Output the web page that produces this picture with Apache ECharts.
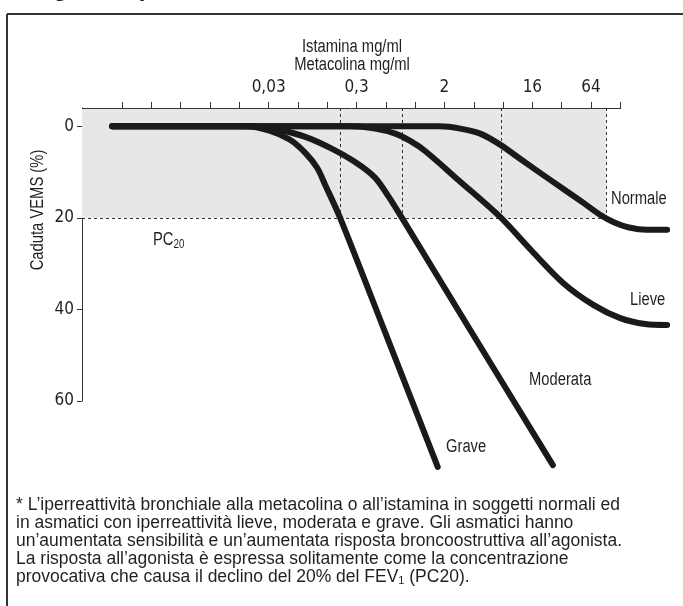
<!DOCTYPE html>
<html>
<head>
<meta charset="utf-8">
<script src="https://cdn.jsdelivr.net/npm/echarts@6/dist/echarts.min.js"></script>
<style>
html, body { margin: 0; padding: 0; background: #fff; }
#chart { width: 683px; height: 606px; }
</style>
</head>
<body>
<div id="chart"></div>
<script>
// asse delle dosi: ogni tacca = raddoppio della concentrazione
var doseTicks = [0, 1, 2, 3, 4, 5, 6, 7, 8, 9, 10, 11, 12, 13, 14, 15, 16, 17];
var doseLabelPos = [5, 8, 11, 14, 16];
var doseLabels = ['0,03', '0,3', '2', '16', '64'];
var fallTicks = [0, 20, 40, 60];
var pc20 = 20;

// curve dose-risposta (x = tacca di dose, y = caduta VEMS %)
var normaleX = [-0.34, 5, 10.85, 11.54, 12.22, 12.9, 13.58, 14.61, 15.63, 16.31, 16.8, 17.3, 17.9, 18.6];
var normaleY = [0, 0, 0, 0.5, 1.6, 4.0, 7.1, 11.7, 16.2, 19.3, 21.0, 22.1, 22.6, 22.6];
var lieveX = [-0.34, 4, 7.78, 8.63, 9.32, 9.83, 10.34, 11.54, 12.9, 13.92, 15.05, 16.08, 17.0, 17.85, 18.6];
var lieveY = [0, 0, 0, 0.5, 1.6, 3.2, 5.4, 12.1, 19.8, 26.8, 34.2, 39.0, 41.9, 43.2, 43.4];
var moderataX = [-0.34, 2, 4.54, 5.39, 6.25, 7.1, 7.95, 8.63, 9.1, 9.55, 11.88, 14.7];
var moderataY = [0, 0, 0, 0.8, 2.3, 4.7, 7.8, 11.2, 15.4, 20.0, 44.5, 74.0];
var graveX = [-0.34, 2, 4.2, 5.05, 5.73, 6.25, 6.66, 6.93, 7.44, 9.0, 10.77];
var graveY = [0, 0, 0, 1.0, 2.95, 5.8, 9.1, 12.8, 20.0, 45.4, 74.4];

var XMIN = -1.37, XMAX = 18.8, XAXIS_END = 17.03, YMIN = -4, YMAX = 60;
var SANS = '"Liberation Sans", Arial, sans-serif';
var COND = '"DejaVu Sans Condensed", "Liberation Sans", sans-serif';
var INK = '#231f20';
var SQ = 0.82; // compressione orizzontale per imitare il carattere condensato

function pairs(xs, ys) {
	var out = [];
	for (var i = 0; i < xs.length; i++) out.push([xs[i], ys[i]]);
	return out;
}
// punto in cui la curva raggiunge la PC20
function crossAt(xs, ys, level) {
	for (var i = 1; i < ys.length; i++) {
		if (ys[i] >= level) {
			return xs[i - 1] + (xs[i] - xs[i - 1]) * (level - ys[i - 1]) / (ys[i] - ys[i - 1]);
		}
	}
	return xs[xs.length - 1];
}
function condText(text, x, y, extra) {
	var st = { text: text, font: '18px ' + SANS, fill: INK, textVerticalAlign: 'middle' };
	for (var k in extra) st[k] = extra[k];
	return { type: 'text', x: x, y: y, scaleX: SQ, style: st };
}

var curves = [
	{ name: 'Normale', x: normaleX, y: normaleY },
	{ name: 'Lieve', x: lieveX, y: lieveY },
	{ name: 'Moderata', x: moderataX, y: moderataY },
	{ name: 'Grave', x: graveX, y: graveY }
];
var crossX = curves.map(function (c) { return crossAt(c.x, c.y, pc20); });
var boxRight = crossX[0];

var dashLines = [
	// linea dell'asse superiore (più corta del riquadro del grafico)
	[{ coord: [XMIN, YMIN], lineStyle: { type: 'solid', color: '#333', width: 1 } }, { coord: [XAXIS_END, YMIN] }],
	[{ coord: [XMIN, pc20] }, { coord: [boxRight, pc20] }]
];
crossX.forEach(function (cx) {
	dashLines.push([{ coord: [cx, YMIN] }, { coord: [cx, pc20] }]);
});

var series = curves.map(function (c, i) {
	var s = {
		name: c.name,
		type: 'line',
		data: pairs(c.x, c.y),
		showSymbol: false,
		smooth: 0.3,
		clip: false,
		z: 5,
		lineStyle: { width: 6, color: '#1a1a1a', cap: 'round', join: 'round' }
	};
	if (i === 0) {
		s.markArea = {
			silent: true,
			itemStyle: { color: '#e6e7e8' },
			data: [[{ coord: [XMIN, YMIN] }, { coord: [boxRight, pc20] }]]
		};
		s.markLine = {
			silent: true,
			symbol: 'none',
			label: { show: false },
			lineStyle: { type: [3, 3], color: '#333', width: 1 },
			data: dashLines
		};
	}
	return s;
});

var chart = echarts.init(document.getElementById('chart'));
var option = {
	animation: false,
	grid: { left: 82, right: 10, top: 108, bottom: 205 },
	xAxis: {
		type: 'value',
		position: 'top',
		min: XMIN,
		max: XMAX,
		axisLine: { show: false, onZero: false },
		axisTick: { show: true, customValues: doseTicks, length: 6, lineStyle: { color: '#333' } },
		axisLabel: {
			customValues: doseLabelPos,
			margin: 12,
			fontFamily: COND,
			fontSize: 17,
			color: INK,
			formatter: function (v) {
				var k = doseLabelPos.indexOf(Math.round(v));
				return k >= 0 ? doseLabels[k] : '';
			}
		},
		splitLine: { show: false }
	},
	yAxis: {
		type: 'value',
		inverse: true,
		min: YMIN,
		max: YMAX,
		axisLine: { show: true, onZero: false, lineStyle: { color: '#333', width: 1 } },
		axisTick: { show: true, customValues: fallTicks, length: 5, lineStyle: { color: '#333' } },
		axisLabel: { customValues: fallTicks, margin: 8, fontFamily: COND, fontSize: 17, color: INK },
		splitLine: { show: false }
	},
	series: series,
	graphic: [
		{ type: 'line', shape: { x1: 7, y1: 14, x2: 683, y2: 14 }, style: { stroke: '#333', lineWidth: 2 } },
		{ type: 'line', shape: { x1: 7, y1: 14, x2: 7, y2: 606 }, style: { stroke: '#333', lineWidth: 2 } },
		{ type: 'text', x: 32, y: 1, style: { text: 'Figura 1 Iperreattività bronchiale', font: 'bold 24px ' + SANS, fill: INK, textVerticalAlign: 'bottom' } },
		condText('Istamina mg/ml', 352, 47, { textAlign: 'center' }),
		condText('Metacolina mg/ml', 352, 65, { textAlign: 'center' }),
		{ type: 'text', x: 38, y: 210, rotation: Math.PI / 2, scaleX: SQ, style: { text: 'Caduta VEMS (%)', font: '18px ' + SANS, fill: INK, textAlign: 'center', textVerticalAlign: 'middle' } },
		condText('PC{s|20}', 153, 240, { rich: { s: { fontFamily: SANS, fontSize: 12, fill: INK, padding: [10, 0, 0, 0] } } }),
		condText('Normale', 611, 199),
		condText('Lieve', 630, 300),
		condText('Moderata', 529, 380),
		condText('Grave', 446, 447),
		{
			type: 'text', x: 16, y: 496,
			style: {
				text: '* L\u2019iperreattività bronchiale alla metacolina o all\u2019istamina in soggetti normali ed\n' +
					'in asmatici con iperreattività lieve, moderata e grave. Gli asmatici hanno\n' +
					'un\u2019aumentata sensibilità e un\u2019aumentata risposta broncoostruttiva all\u2019agonista.\n' +
					'La risposta all\u2019agonista è espressa solitamente come la concentrazione\n' +
					'provocativa che causa il declino del 20% del FEV{s|1} (PC20).',
				font: '17.5px ' + SANS,
				fill: INK,
				lineHeight: 18,
				rich: { s: { fontFamily: SANS, fontSize: 11, fill: INK, lineHeight: 18, padding: [8, 0, 0, 0] } }
			}
		}
	]
};
chart.setOption(option);
</script>
</body>
</html>
